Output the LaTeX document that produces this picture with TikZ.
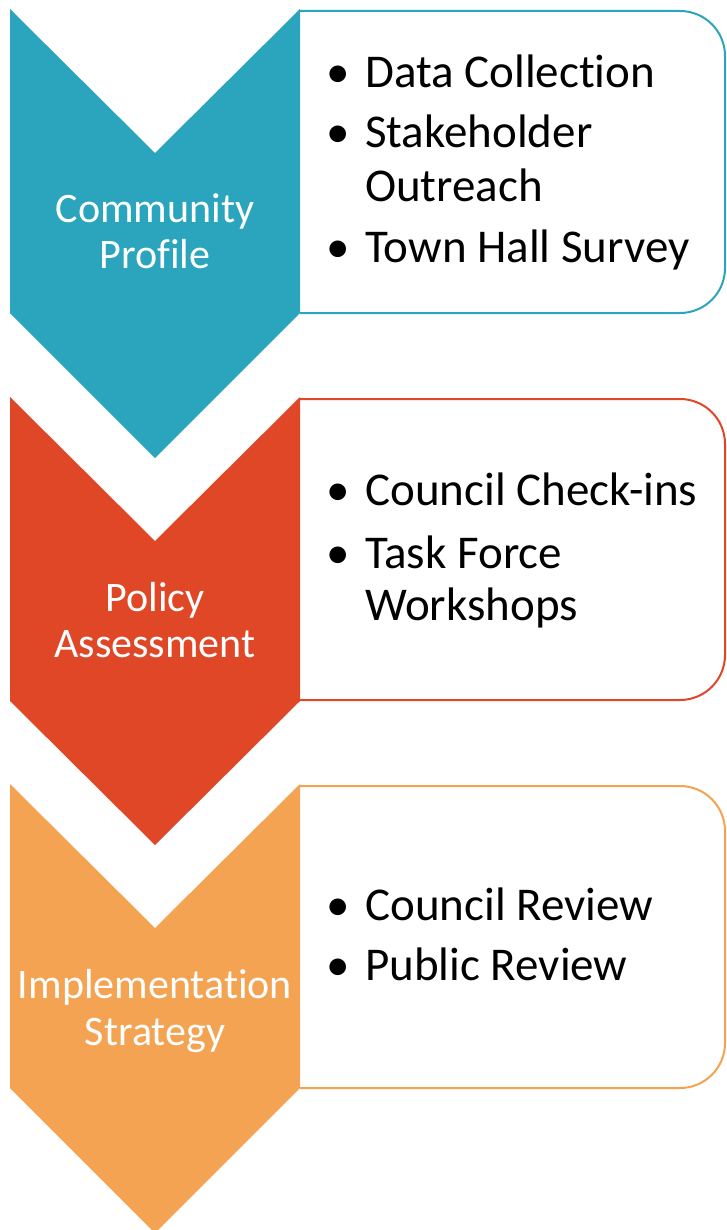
\documentclass[tikz,border=0pt]{standalone}
\usepackage{fontspec}
\setmainfont[Ligatures={NoCommon,NoContextual,NoRare},RawFeature={-liga;-clig;-calt}]{Carlito}
\definecolor{cteal}{RGB}{42,165,189}
\definecolor{cred}{RGB}{224,71,38}
\definecolor{corange}{RGB}{243,163,82}
\begin{document}
\begin{tikzpicture}[x=1pt,y=-1pt,
  stepbox/.style={draw=#1,line width=2pt,fill=white,rounded corners=45pt},
  chev/.style={fill=#1},
  phase/.style={text=white,anchor=base,inner sep=0pt,font=\fontsize{42}{46}\selectfont},
  item/.style={text=black,anchor=base west,inner sep=0pt,font=\fontsize{47}{52}\selectfont},
  bul/.style={text=black,anchor=base,inner sep=0pt,font=\fontsize{47}{52}\selectfont}]
\useasboundingbox (0,0) rectangle (726,1230);
% step 1
\draw[stepbox=cteal] (300,11) -- (725,11) -- (725,313) -- (300,313);
\fill[chev=cteal] (10,9) -- (155,153) -- (300,9) -- (300,313) -- (155,458) -- (10,313) -- cycle;
\node[phase] (p1a) at (155,223) {Community};
\node[phase] (p1b) at (155,269) {Profile};
\node[bul] (b1a) at (338,88) {•};
\node[item] (i1a) at (365,88) {Data Collection};
\node[bul] (b1b) at (338,148) {•};
\node[item] (i1b) at (365,148) {Stakeholder};
\node[item] (i1c) at (365,202) {Outreach};
\node[bul] (b1c) at (338,263) {•};
\node[item] (i1d) at (365,263) {Town Hall Survey};
% step 2
\draw[stepbox=cred] (300,399) -- (725,399) -- (725,700) -- (300,700);
\fill[chev=cred] (10,397) -- (155,541) -- (300,397) -- (300,701) -- (155,845) -- (10,701) -- cycle;
\node[phase] (p2a) at (155,611) {Policy};
\node[phase] (p2b) at (155,657) {Assessment};
\node[bul] (b2a) at (338,505) {•};
\node[item] (i2a) at (365,505) {Council Check-ins};
\node[bul] (b2b) at (338,568) {•};
\node[item] (i2b) at (365,568) {Task Force};
\node[item] (i2c) at (365,620) {Workshops};
% step 3
\draw[stepbox=corange] (300,786) -- (725,786) -- (725,1088) -- (300,1088);
\fill[chev=corange] (10,784) -- (155,928) -- (300,784) -- (300,1088) -- (155,1233) -- (10,1088) -- cycle;
\node[phase] (p3a) at (155,998) {Implementation};
\node[phase] (p3b) at (155,1045) {Strategy};
\node[bul] (b3a) at (338,920) {•};
\node[item] (i3a) at (365,920) {Council Review};
\node[bul] (b3b) at (338,980) {•};
\node[item] (i3b) at (365,980) {Public Review};
\end{tikzpicture}
\end{document}
